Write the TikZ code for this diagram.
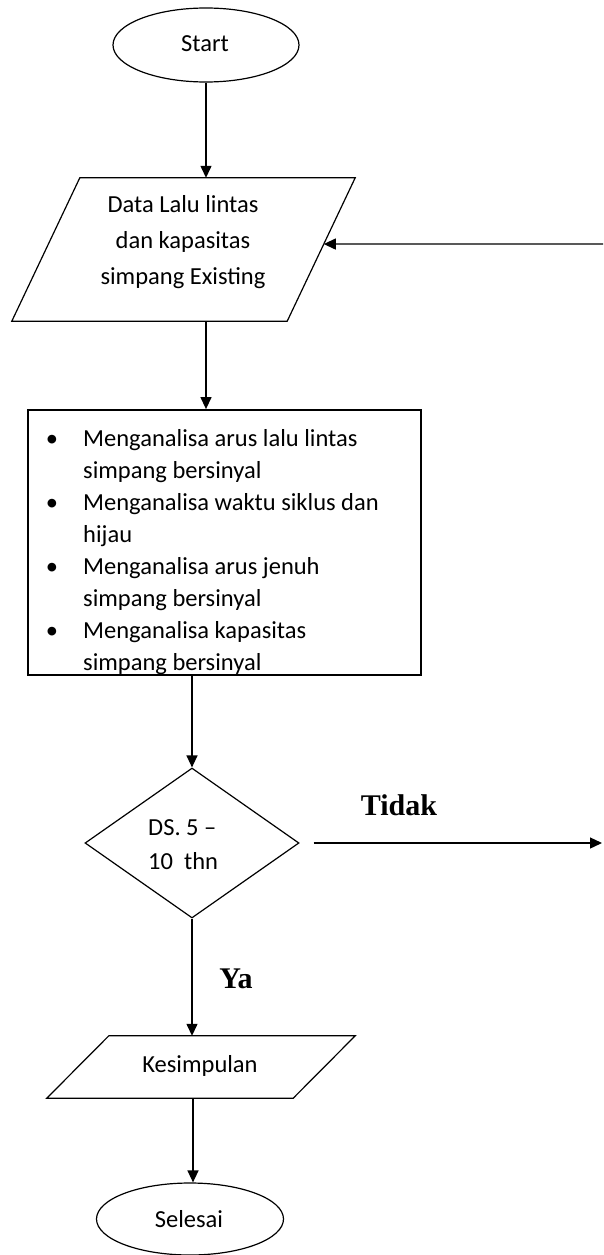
\documentclass[tikz,border=0pt]{standalone}
\usepackage{fontspec}
\setmainfont{Carlito}
\newfontfamily\labelfont{Liberation Serif}
\usepackage{tikz}
\usetikzlibrary{shapes.geometric,arrows.meta,calc}

\tikzset{
  flow/.style={draw, line width=1.2pt, inner sep=0pt},
  frame/.style={inner sep=0pt},
  arr/.style={-{Triangle[length=12pt,width=11pt]}, line width=1.3pt},
  boxtext/.style={font=\fontsize{24.5}{32}\selectfont, inner sep=0pt},
  yesno/.style={font=\labelfont\bfseries\fontsize{30}{34}\selectfont, inner sep=0pt}
}

\begin{document}
\begin{tikzpicture}[x=1pt,y=-1pt]
    \useasboundingbox (0,0) rectangle (603,1255);
    % shapes
    \node[flow, ellipse, minimum width=186pt, minimum height=74pt] (start) at (206,45) {};
    \node[boxtext] (starttext) at (205,44) {Start};
    \node[frame, minimum width=343pt, minimum height=143pt] (data) at (183.5,249.5) {};
    \draw[line width=1.2pt] ([xshift=68pt]data.north west) -- (data.north east)
        -- ([xshift=-68pt]data.south east) -- (data.south west) -- cycle;
    \node[boxtext, font=\fontsize{24.5}{36}\selectfont, align=center] (datatext) at (183,242)
        {Data Lalu lintas\\dan kapasitas\\simpang Existing};
    \node[flow, line width=1.8pt, minimum width=393pt, minimum height=265pt] (analisa) at (224.5,542.5) {};
    \begin{scope}
        \clip (analisa.south west) rectangle (analisa.north east);
        \node[boxtext] (b1) at (52,441) {\textbullet};
        \node[boxtext, anchor=west, align=left] (t1) at (83,456) {Menganalisa arus lalu lintas\\simpang bersinyal};
        \node[boxtext] (b2) at (52,505) {\textbullet};
        \node[boxtext, anchor=west, align=left] (t2) at (83,520) {Menganalisa waktu siklus dan\\hijau};
        \node[boxtext] (b3) at (52,569) {\textbullet};
        \node[boxtext, anchor=west, align=left] (t3) at (83,584) {Menganalisa arus jenuh\\simpang bersinyal};
        \node[boxtext] (b4) at (52,633) {\textbullet};
        \node[boxtext, anchor=west, align=left] (t4) at (83,648) {Menganalisa kapasitas\\simpang bersinyal};
    \end{scope}
    \node[flow, diamond, minimum width=214pt, minimum height=150pt] (dec) at (192,843) {};
    \node[boxtext, font=\fontsize{24.5}{34}\selectfont, anchor=west, align=left] (dectext) at (148,845)
        {DS. 5 --\\10\ \ thn};
    \node[frame, minimum width=308pt, minimum height=62pt] (kes) at (201,1067) {};
    \draw[line width=1.2pt] ([xshift=62pt]kes.north west) -- (kes.north east)
        -- ([xshift=-62pt]kes.south east) -- (kes.south west) -- cycle;
    \node[boxtext] (kestext) at (200,1066) {Kesimpulan};
    \node[flow, ellipse, minimum width=187pt, minimum height=72pt] (selesai) at (190,1219) {};
    \node[boxtext] (selesaitext) at (189,1219) {Selesai};
    % connectors
    \coordinate (back) at (603,244);
    \coordinate (dataside) at ($(data.north east)!0.462!([xshift=-68pt]data.south east)$);
    \coordinate (tidakend) at (602,843);
    \draw[arr] (start.south) -- (start |- data.north);
    \draw[arr] (start |- data.south) -- (start |- analisa.north);
    \draw[arr] (back) -- (dataside);
    \draw[arr] (dec.north |- analisa.south) -- (dec.north);
    \draw[arr] ([xshift=14pt]dec.east) -- (tidakend);
    \draw[arr] (dec.south) -- (dec.south |- kes.north);
    \draw[arr] ([xshift=3pt]selesai |- kes.south) -- ([xshift=3pt]selesai.north);
    \node[yesno] (tidak) at (399,805) {Tidak};
    \node[yesno] (ya) at (236,979) {Ya};
\end{tikzpicture}
\end{document}
